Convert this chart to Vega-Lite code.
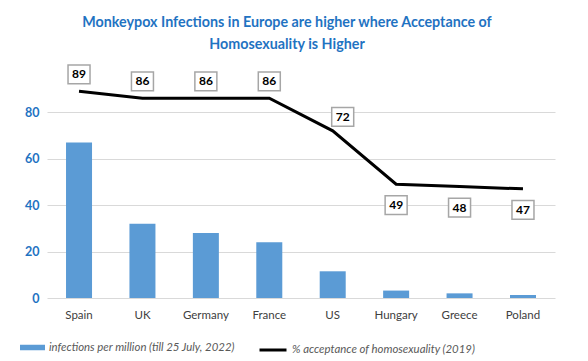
{
  "$schema": "https://vega.github.io/schema/vega-lite/v6.json",
  "width": 508,
  "height": 209,
  "autosize": {"type": "none"},
  "padding": {"left": 47, "top": 89, "right": 33, "bottom": 63},
  "background": "white",
  "title": {
    "text": ["Monkeypox Infections in Europe are higher where Acceptance of", "Homosexuality is Higher"],
    "font": "Lato",
    "fontSize": 14.3,
    "fontWeight": "bold",
    "color": "#1F73C2",
    "lineHeight": 22,
    "anchor": "middle",
    "dx": -14,
    "offset": 10
  },
  "config": {
    "view": {"stroke": null},
    "legend": {"padding": 0}
  },
  "data": {
    "values": [
      {"country": "Spain", "infections": 67, "acceptance": 89},
      {"country": "UK", "infections": 32, "acceptance": 86},
      {"country": "Germany", "infections": 28, "acceptance": 86},
      {"country": "France", "infections": 24, "acceptance": 86},
      {"country": "US", "infections": 11.5, "acceptance": 72},
      {"country": "Hungary", "infections": 3.2, "acceptance": 49},
      {"country": "Greece", "infections": 2, "acceptance": 48},
      {"country": "Poland", "infections": 1.3, "acceptance": 47}
    ]
  },
  "encoding": {
    "x": {
      "field": "country",
      "type": "nominal",
      "sort": null,
      "scale": {"paddingInner": 0.59, "paddingOuter": 0.3},
      "axis": {
        "title": null,
        "labelAngle": 0,
        "ticks": false,
        "domain": false,
        "labelFont": "Lato",
        "labelFontSize": 11.5,
        "labelColor": "#404040",
        "labelPadding": 11
      }
    }
  },
  "layer": [
    {
      "mark": {"type": "bar"},
      "encoding": {
        "y": {
          "field": "infections",
          "type": "quantitative",
          "scale": {"domain": [0, 90], "nice": false},
          "axis": {
            "title": null,
            "values": [0, 20, 40, 60, 80],
            "ticks": false,
            "domain": false,
            "gridColor": "#D9D9D9",
            "labelFont": "Lato",
            "labelFontSize": 12.5,
            "labelFontWeight": "bold",
            "labelColor": "#1F73C2",
            "labelPadding": 8
          }
        },
        "fill": {
          "datum": "infections per million (till 25 July, 2022)",
          "type": "nominal",
          "scale": {"range": ["#5B9BD5"]},
          "legend": {
            "title": null,
            "orient": "none",
            "legendX": -27,
            "legendY": 246,
            "symbolType": "M-1,-0.22H1V0.22H-1Z",
            "symbolSize": 625,
            "symbolStrokeWidth": 0,
            "labelFont": "Lato",
            "labelFontSize": 11.4,
            "labelFontStyle": "italic",
            "labelColor": "#595959",
            "labelOffset": 4,
            "labelLimit": 400
          }
        }
      }
    },
    {
      "mark": {"type": "line", "strokeWidth": 3},
      "encoding": {
        "y": {"field": "acceptance", "type": "quantitative"},
        "stroke": {
          "datum": "% acceptance of homosexuality (2019)",
          "type": "nominal",
          "scale": {"range": ["#000000"]},
          "legend": {
            "title": null,
            "orient": "none",
            "legendX": 211,
            "legendY": 246,
            "symbolType": "stroke",
            "symbolSize": 729,
            "symbolStrokeWidth": 3,
            "labelFont": "Lato",
            "labelFontSize": 11.4,
            "labelFontStyle": "italic",
            "labelColor": "#595959",
            "labelOffset": 4,
            "labelLimit": 400
          }
        }
      }
    },
    {
      "transform": [{"filter": "datum.acceptance >= 80"}],
      "mark": {"type": "point", "shape": "M-1,-0.85H1V0.85H-1Z", "size": 484, "filled": true, "fill": "white", "stroke": "#A6A6A6", "strokeWidth": 1.5, "opacity": 1, "yOffset": -17},
      "encoding": {"y": {"field": "acceptance", "type": "quantitative"}}
    },
    {
      "transform": [{"filter": "datum.acceptance >= 80"}],
      "mark": {"type": "text", "font": "Lato", "fontSize": 12, "fontWeight": "bold", "color": "#000000", "dy": -17},
      "encoding": {"y": {"field": "acceptance", "type": "quantitative"}, "text": {"field": "acceptance", "type": "quantitative"}}
    },
    {
      "transform": [{"filter": "datum.acceptance > 60 && datum.acceptance < 80"}],
      "mark": {"type": "point", "shape": "M-1,-0.85H1V0.85H-1Z", "size": 484, "filled": true, "fill": "white", "stroke": "#A6A6A6", "strokeWidth": 1.5, "opacity": 1, "xOffset": 10, "yOffset": -14},
      "encoding": {"y": {"field": "acceptance", "type": "quantitative"}}
    },
    {
      "transform": [{"filter": "datum.acceptance > 60 && datum.acceptance < 80"}],
      "mark": {"type": "text", "font": "Lato", "fontSize": 12, "fontWeight": "bold", "color": "#000000", "dx": 10, "dy": -14},
      "encoding": {"y": {"field": "acceptance", "type": "quantitative"}, "text": {"field": "acceptance", "type": "quantitative"}}
    },
    {
      "transform": [{"filter": "datum.acceptance < 60"}],
      "mark": {"type": "point", "shape": "M-1,-0.85H1V0.85H-1Z", "size": 484, "filled": true, "fill": "white", "stroke": "#A6A6A6", "strokeWidth": 1.5, "opacity": 1, "yOffset": 21},
      "encoding": {"y": {"field": "acceptance", "type": "quantitative"}}
    },
    {
      "transform": [{"filter": "datum.acceptance < 60"}],
      "mark": {"type": "text", "font": "Lato", "fontSize": 12, "fontWeight": "bold", "color": "#000000", "dy": 21},
      "encoding": {"y": {"field": "acceptance", "type": "quantitative"}, "text": {"field": "acceptance", "type": "quantitative"}}
    }
  ]
}
